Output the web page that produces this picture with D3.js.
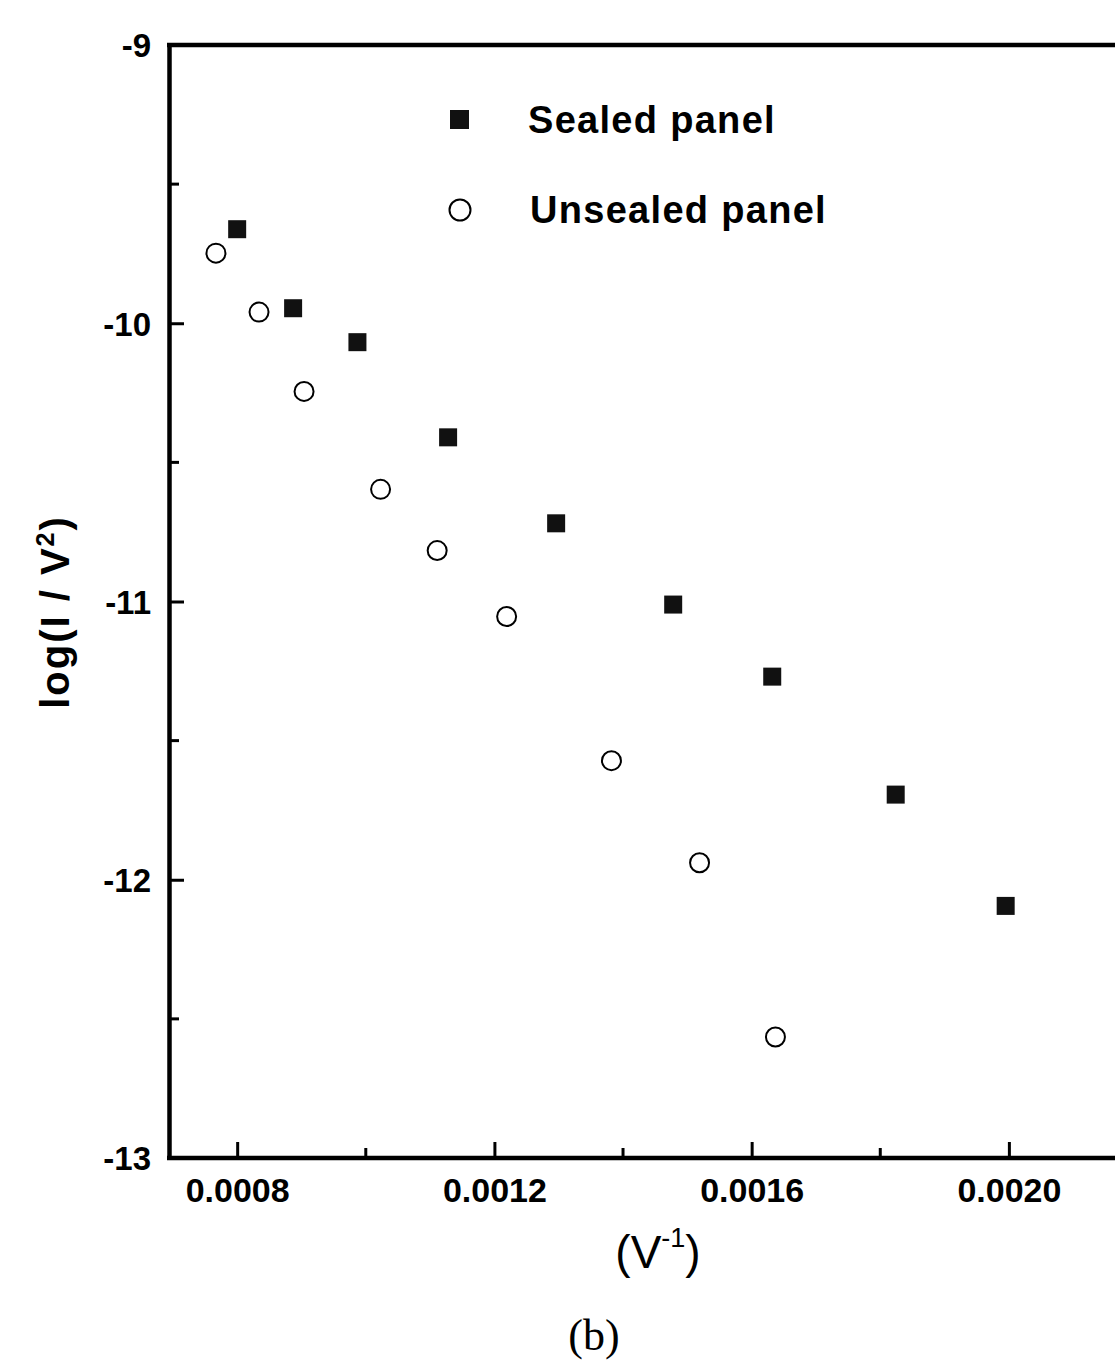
<!DOCTYPE html>
<html>
<head>
<meta charset="utf-8">
<script src="https://cdn.jsdelivr.net/npm/d3@7"></script>
<style>
  html, body { margin: 0; padding: 0; background: #fff; }
  svg { display: block; }
</style>
</head>
<body>
<svg id="chart" width="1115" height="1361"></svg>
<script>
// ---- data ----
const sealedX   = [0.000800, 0.000887, 0.000987, 0.001128, 0.001296, 0.001478, 0.001632, 0.001824, 0.001995];
const sealedY   = [-9.662, -9.946, -10.068, -10.410, -10.719, -11.011, -11.270, -11.694, -12.094];
const unsealedX = [0.000767, 0.000834, 0.000904, 0.001023, 0.001111, 0.001219, 0.001382, 0.001519, 0.001637];
const unsealedY = [-9.748, -9.960, -10.245, -10.597, -10.817, -11.054, -11.572, -11.939, -12.565];
const xMajorTicks = [0.0008, 0.0012, 0.0016, 0.0020];
const xMinorTicks = [0.0010, 0.0014, 0.0018];
const xTickLabels = ["0.0008", "0.0012", "0.0016", "0.0020"];
const yMajorTicks = [-13, -12, -11, -10, -9];
const yMinorTicks = [-12.5, -11.5, -10.5, -9.5];
const yTickLabels = ["-13", "-12", "-11", "-10", "-9"];
const seriesNames = ["Sealed panel", "Unsealed panel"];

// ---- layout ----
const svg = d3.select("#chart");
const L = 169, R = 1115, T = 45, B = 1158;
const x = d3.scaleLinear().domain([0.000694, 0.002165]).range([L, R]);
const y = d3.scaleLinear().domain([-13, -9]).range([B, T]);
const sans = "'Liberation Sans', Arial, Helvetica, sans-serif";

// axes frame
svg.append("line").attr("x1", L - 2).attr("x2", R).attr("y1", T).attr("y2", T)
  .attr("stroke", "#000").attr("stroke-width", 4.5);

const axStyle = g => {
  g.select(".domain").attr("stroke-width", 4.5);
  g.selectAll(".tick line").attr("stroke-width", 3);
};

// bottom axis: major ticks
const xAxis = svg.append("g").attr("transform", `translate(0,${B})`)
  .call(d3.axisBottom(x).tickValues(xMajorTicks).tickSizeInner(-16).tickSizeOuter(0)
    .tickPadding(0).tickFormat((d, i) => xTickLabels[i]))
  .call(axStyle);
xAxis.select(".domain").attr("d", `M${L - 2},0H${R}`);
xAxis.selectAll(".tick text").attr("font-family", sans).attr("font-weight", "bold")
  .attr("font-size", 34).attr("fill", "#000").attr("dy", null).attr("y", 44);
// bottom minor ticks
svg.append("g").attr("transform", `translate(0,${B})`)
  .selectAll("line").data(xMinorTicks).join("line")
  .attr("x1", d => x(d)).attr("x2", d => x(d)).attr("y1", 0).attr("y2", -10)
  .attr("stroke", "#000").attr("stroke-width", 3);

// left axis
const yAxis = svg.append("g").attr("transform", `translate(${L},0)`)
  .call(d3.axisLeft(y).tickValues(yMajorTicks).tickSizeInner(-15).tickSizeOuter(0)
    .tickPadding(0).tickFormat((d, i) => yTickLabels[i]))
  .call(axStyle);
yAxis.selectAll(".tick text").attr("font-family", sans).attr("font-weight", "bold")
  .attr("font-size", 33).attr("fill", "#000").attr("x", -18).attr("dy", "0.36em");
svg.append("g").attr("transform", `translate(${L},0)`)
  .selectAll("line").data(yMinorTicks).join("line")
  .attr("x1", 0).attr("x2", 10).attr("y1", d => y(d)).attr("y2", d => y(d))
  .attr("stroke", "#000").attr("stroke-width", 3);

// ---- points ----
const sealed = sealedX.map((v, i) => ({ x: v, y: sealedY[i] }));
const unsealed = unsealedX.map((v, i) => ({ x: v, y: unsealedY[i] }));
const sq = 18;
svg.append("g").selectAll("rect").data(sealed).join("rect")
  .attr("x", d => x(d.x) - sq / 2).attr("y", d => y(d.y) - sq / 2)
  .attr("width", sq).attr("height", sq).attr("fill", "#111");
svg.append("g").selectAll("circle").data(unsealed).join("circle")
  .attr("cx", d => x(d.x)).attr("cy", d => y(d.y)).attr("r", 9.5)
  .attr("fill", "#fff").attr("stroke", "#000").attr("stroke-width", 2);

// ---- legend ----
const lg = svg.append("g");
lg.append("rect").attr("x", 450).attr("y", 110).attr("width", sq + 1).attr("height", sq + 1).attr("fill", "#111");
lg.append("text").attr("x", 528).attr("y", 133).text(seriesNames[0])
  .attr("font-family", sans).attr("font-weight", "bold").attr("font-size", 38)
  .attr("letter-spacing", 1.3).attr("fill", "#000");
lg.append("circle").attr("cx", 460).attr("cy", 210).attr("r", 10.5)
  .attr("fill", "#fff").attr("stroke", "#000").attr("stroke-width", 2);
lg.append("text").attr("x", 530).attr("y", 223).text(seriesNames[1])
  .attr("font-family", sans).attr("font-weight", "bold").attr("font-size", 38)
  .attr("letter-spacing", 1.3).attr("fill", "#000");

// ---- axis titles ----
const yt = svg.append("text")
  .attr("transform", "translate(69,612) rotate(-90)")
  .attr("text-anchor", "middle")
  .attr("font-family", sans).attr("font-weight", "bold").attr("font-size", 40)
  .attr("letter-spacing", 2).attr("fill", "#000");
yt.append("tspan").text("log(I / V");
yt.append("tspan").attr("font-size", 25).attr("dy", -15).text("2");
yt.append("tspan").attr("dy", 15).text(")");

const xt = svg.append("text")
  .attr("x", 658).attr("y", 1268).attr("text-anchor", "middle")
  .attr("font-family", sans).attr("font-size", 46).attr("fill", "#000");
xt.append("tspan").text("(V");
xt.append("tspan").attr("font-size", 27).attr("dy", -21).text("-1");
xt.append("tspan").attr("dy", 21).text(")");

svg.append("text").attr("x", 594).attr("y", 1350).attr("text-anchor", "middle")
  .attr("font-family", "'Liberation Serif', 'Times New Roman', serif")
  .attr("font-size", 44).attr("fill", "#000").text("(b)");
</script>
</body>
</html>
